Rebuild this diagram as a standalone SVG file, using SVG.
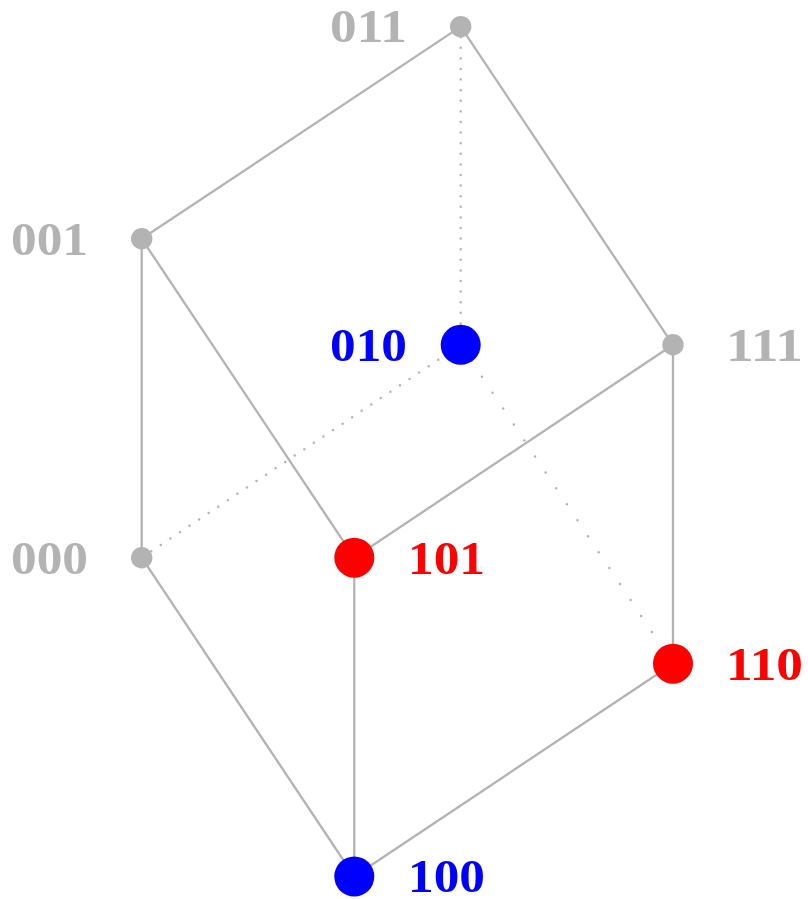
<svg xmlns="http://www.w3.org/2000/svg" width="808" height="899" viewBox="0 0 808 899">
<style>
.e{stroke:#b3b3b3;stroke-width:2.3;fill:none}
.d{stroke:#b3b3b3;stroke-width:2.5;fill:none;stroke-linecap:round}
.v{stroke-dasharray:0 10.6}
.l{stroke-dasharray:0 11.5}
.x{stroke-dasharray:0 19.16}
text{font-family:"Liberation Serif",serif;font-weight:bold;font-size:47px}
.g{fill:#b3b3b3}.r{fill:#f00}.b{fill:#00f}
</style>
<g id="connectors">
<line class="e" x1="141.700" y1="238.800" x2="460.700" y2="26.600"/>
<line class="e" x1="460.700" y1="26.600" x2="673" y2="344.800"/>
<line class="e" x1="141.700" y1="238.800" x2="141.700" y2="557.700"/>
<line class="e" x1="141.700" y1="238.800" x2="354.300" y2="557.700"/>
<line class="e" x1="354.300" y1="557.700" x2="673" y2="344.800"/>
<line class="e" x1="673" y1="344.800" x2="673" y2="663.700"/>
<line class="e" x1="354.300" y1="557.700" x2="354.300" y2="876.500"/>
<line class="e" x1="141.700" y1="557.700" x2="354.300" y2="876.500"/>
<line class="e" x1="354.300" y1="876.500" x2="673" y2="663.700"/>
<line class="d v" x1="460.700" y1="26.600" x2="460.700" y2="344.800"/>
<line class="d l" x1="141.700" y1="557.700" x2="460.700" y2="344.800"/>
<line class="d x" x1="460.700" y1="344.800" x2="673" y2="663.700"/>
</g>
<g id="n011"><circle class="g" cx="460.700" cy="26.600" r="10.700"/><text class="g" x="330" y="42" textLength="77" lengthAdjust="spacingAndGlyphs">011</text></g>
<g id="n001"><circle class="g" cx="141.700" cy="238.800" r="10.700"/><text class="g" x="11" y="255" textLength="77" lengthAdjust="spacingAndGlyphs">001</text></g>
<g id="n010"><circle class="b" cx="460.700" cy="344.800" r="20"/><text class="b" x="330" y="361" textLength="77" lengthAdjust="spacingAndGlyphs">010</text></g>
<g id="n111"><circle class="g" cx="673" cy="344.800" r="10.700"/><text class="g" x="726" y="361" textLength="77" lengthAdjust="spacingAndGlyphs">111</text></g>
<g id="n000"><circle class="g" cx="141.700" cy="557.700" r="10.700"/><text class="g" x="11" y="574" textLength="77" lengthAdjust="spacingAndGlyphs">000</text></g>
<g id="n101"><circle class="r" cx="354.300" cy="557.700" r="20"/><text class="r" x="408" y="574" textLength="77" lengthAdjust="spacingAndGlyphs">101</text></g>
<g id="n110"><circle class="r" cx="673" cy="663.700" r="20"/><text class="r" x="726" y="680" textLength="77" lengthAdjust="spacingAndGlyphs">110</text></g>
<g id="n100"><circle class="b" cx="354.300" cy="876.500" r="20"/><text class="b" x="408" y="892" textLength="77" lengthAdjust="spacingAndGlyphs">100</text></g>
</svg>
